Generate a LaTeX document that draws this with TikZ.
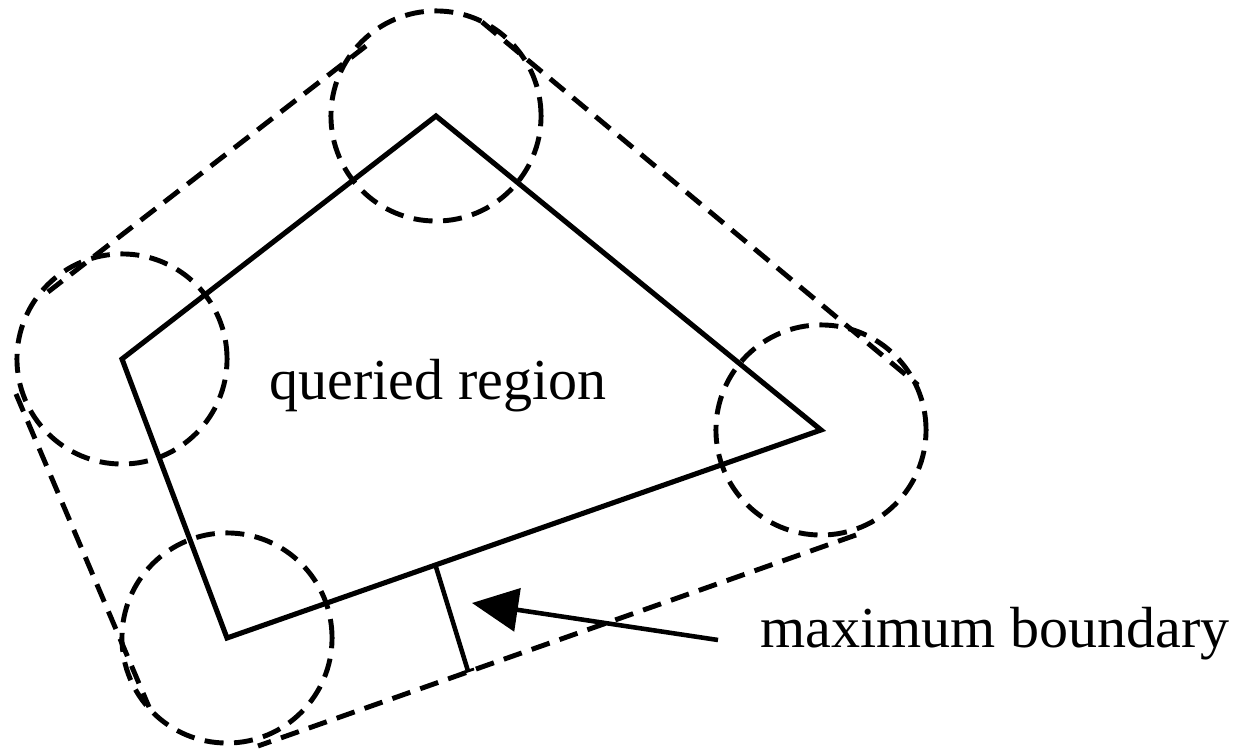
\documentclass[tikz,border=0pt]{standalone}
\usepackage{fontspec}
\setmainfont{Liberation Serif}
\usetikzlibrary{arrows.meta,calc}
\begin{document}
\begin{tikzpicture}[x=0.01cm,y=-0.01cm,
  solidline/.style={line width=1.45pt,line join=miter},
  dashline/.style={line width=1.4pt,dash pattern=on 5.4pt off 3pt},
  label/.style={font=\fontsize{16.5}{19}\selectfont,inner sep=0pt}]
\useasboundingbox (0,0) rectangle (1235,749);
% vertices of the queried region
\coordinate (A) at (436,116);
\coordinate (B) at (821,430);
\coordinate (C) at (227,638);
\coordinate (D) at (122,359);
% circles around the vertices
\foreach \v in {A,B,C,D}
  \draw[dashline] (\v) circle[radius=1.05cm];
% outer dashed hull
\coordinate (t1a) at (366,46);
\coordinate (t1b) at (48,292);
\coordinate (t2a) at (482,22);
\coordinate (t2b) at (918,385);
\coordinate (t3a) at (856,535);
\coordinate (t3b) at (258,746);
\coordinate (t4a) at (16,394);
\coordinate (t4b) at (149,707);
\draw[dashline] (t1a) -- (t1b);
\draw[dashline] (t2a) -- (t2b);
\draw[dashline] (t3a) -- (t3b);
\draw[dashline] (t4a) -- (t4b);
% queried region
\draw[solidline] (A) -- (B) -- (C) -- (D) -- cycle;
\node[label] (q) at (438,386) {queried region};
% maximum boundary marker
\coordinate (m1) at (436,567);
\coordinate (m2) at (468,671);
\draw[line width=1.3pt] (m1) -- (m2);
\draw[line width=0.8pt] ($(m2)+(-6,2)$) -- ($(m2)+(6,-2)$);
\node[label,anchor=west] (mb) at (760,634) {maximum boundary};
\coordinate (tail) at (718,640);
\coordinate (tip) at (472,603);
\draw[line width=1.3pt,-{Triangle[length=4.6mm,width=4.3mm]}] (tail) -- (tip);
\end{tikzpicture}
\end{document}
